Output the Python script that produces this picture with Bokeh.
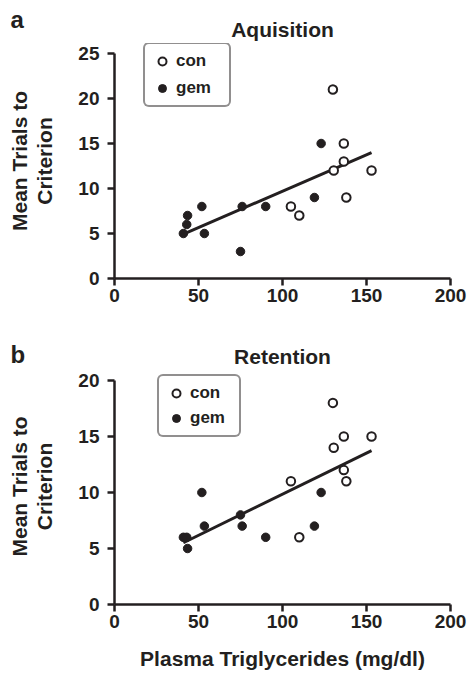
import numpy as np
from bokeh.plotting import figure
from bokeh.models import Range1d, FixedTicker, Label, Legend, LegendItem
from bokeh.layouts import column
from bokeh.embed import file_html
from bokeh.resources import INLINE

# ---- data ----
x_ticks = [0, 50, 100, 150, 200]
acq_y_ticks = [0, 5, 10, 15, 20, 25]
ret_y_ticks = [0, 5, 10, 15, 20]

acq_con_x = [130, 136.5, 136.5, 130.5, 153, 138, 105, 110]
acq_con_y = [21, 15, 13, 12, 12, 9, 8, 7]
acq_gem_x = [123, 119, 90, 76, 52, 43.5, 43, 41, 53.5, 75]
acq_gem_y = [15, 9, 8, 8, 8, 7, 6, 5, 5, 3]

ret_con_x = [130, 136.5, 153, 130.5, 136.5, 138, 105, 110]
ret_con_y = [18, 15, 15, 14, 12, 11, 11, 6]
ret_gem_x = [52, 123, 75, 53.5, 76, 119, 90, 41, 43, 43.5]
ret_gem_y = [10, 10, 8, 7, 7, 7, 6, 6, 6, 5]

DARK = "#231f20"
FONT = "Liberation Sans"
LEFT = 114
FRAME_W = 336
RIGHT = 18
TOTAL_W = LEFT + FRAME_W + RIGHT


def make_header(letter, title, height, letter_y, title_y):
    h = figure(width=TOTAL_W, height=height, output_backend="svg",
               toolbar_location=None, x_range=Range1d(0, 1),
               y_range=Range1d(0, 1), x_axis_location=None,
               y_axis_location=None, min_border_left=0, min_border_right=0,
               min_border_top=0, min_border_bottom=0)
    if "frame_align" in h.properties():
        h.frame_align = False
    h.grid.visible = False
    h.outline_line_color = None
    h.add_layout(Label(x=LEFT + FRAME_W / 2, y=title_y, x_units="screen",
                       y_units="screen", text=title, text_align="center",
                       text_baseline="alphabetic", text_font=FONT,
                       text_font_style="bold", text_font_size="21px",
                       text_color=DARK))
    h.add_layout(Label(x=10, y=letter_y, x_units="screen", y_units="screen",
                       text=letter, text_align="left",
                       text_baseline="alphabetic", text_font=FONT,
                       text_font_style="bold", text_font_size="24px",
                       text_color=DARK))
    return h


def make_panel(cx, cy, gx, gy, ymax, yticks, frame_h, top_gap, height,
               leg_loc, leg_lw, leg_spacing, xlabel=None):
    # y range reaches slightly above the top tick so the legend fits the frame
    y_end = ymax * frame_h / (frame_h - top_gap)
    p = figure(frame_width=FRAME_W, frame_height=frame_h, height=height,
               output_backend="svg", toolbar_location=None,
               min_border_left=LEFT, min_border_right=RIGHT,
               min_border_top=0, min_border_bottom=height - frame_h,
               x_range=Range1d(0, 200), y_range=Range1d(0, y_end))
    p.grid.visible = False
    p.outline_line_color = None
    p.background_fill_color = "white"

    for ax in (p.xaxis[0], p.yaxis[0]):
        ax.axis_line_width = 2.5
        ax.axis_line_color = DARK
        ax.major_tick_line_width = 2.5
        ax.major_tick_line_color = DARK
        ax.major_tick_out = 7
        ax.major_tick_in = 0
        ax.minor_tick_line_color = None
        ax.major_label_text_font = FONT
        ax.major_label_text_font_style = "bold"
        ax.major_label_text_font_size = "19px"
        ax.major_label_text_color = DARK
        ax.axis_label_text_font = FONT
        ax.axis_label_text_font_style = "bold"
        ax.axis_label_text_font_size = "21px"
        ax.axis_label_text_color = DARK

    p.xaxis.ticker = FixedTicker(ticks=x_ticks)
    p.yaxis.ticker = FixedTicker(ticks=yticks)
    p.yaxis.bounds = (0, ymax)
    p.xaxis.major_label_standoff = 3
    p.yaxis.major_label_standoff = 8
    p.yaxis.axis_label = "Mean Trials to\nCriterion"
    p.yaxis.axis_label_standoff = 19
    p.yaxis.axis_label_text_line_height = 1.1
    if xlabel:
        p.xaxis.axis_label = xlabel
        p.xaxis.axis_label_standoff = 16

    # regression line computed from all points
    ax_all = np.array(cx + gx, dtype=float)
    ay_all = np.array(cy + gy, dtype=float)
    slope, icpt = np.polyfit(ax_all, ay_all, 1)
    lx = [ax_all.min(), ax_all.max()]
    ly = [slope * v + icpt for v in lx]
    p.line(lx, ly, line_width=3, line_color=DARK)

    r_con = p.scatter(cx, cy, marker="circle", size=8.5, fill_color="white",
                      line_color=DARK, line_width=2)
    r_gem = p.scatter(gx, gy, marker="circle", size=8.5, fill_color=DARK,
                      line_color=DARK, line_width=1)

    leg = Legend(items=[LegendItem(label="con", renderers=[r_con]),
                        LegendItem(label="gem", renderers=[r_gem])],
                 location=leg_loc)
    leg.label_text_font = FONT
    leg.label_text_font_style = "bold"
    leg.label_text_font_size = "17px"
    leg.label_text_color = DARK
    leg.glyph_width = 20
    leg.glyph_height = 20
    leg.label_height = 20
    leg.label_width = leg_lw
    leg.label_standoff = 4
    leg.spacing = leg_spacing
    leg.padding = 7
    leg.margin = 0
    leg.border_line_width = 2.5
    leg.border_line_color = DARK
    leg.background_fill_color = "white"
    leg.background_fill_alpha = 1.0
    if "border_radius" in Legend.properties():
        leg.border_radius = 6
    p.add_layout(leg, "center")
    return p


h1 = make_header("a", "Aquisition", 43, 24, 14.5)
p1 = make_panel(acq_con_x, acq_con_y, acq_gem_x, acq_gem_y, 25, acq_y_ticks,
                235, 10, 293, (29, 171), 46, 7)
h2 = make_header("b", "Retention", 32, 14, 12.5)
p2 = make_panel(ret_con_x, ret_con_y, ret_gem_x, ret_gem_y, 20, ret_y_ticks,
                236, 12, 304, (43, 167), 42, 5,
                xlabel="Plasma Triglycerides (mg/dl)")

layout = column(h1, p1, h2, p2, spacing=0)
open("out.html", "w").write(file_html(layout, INLINE))
